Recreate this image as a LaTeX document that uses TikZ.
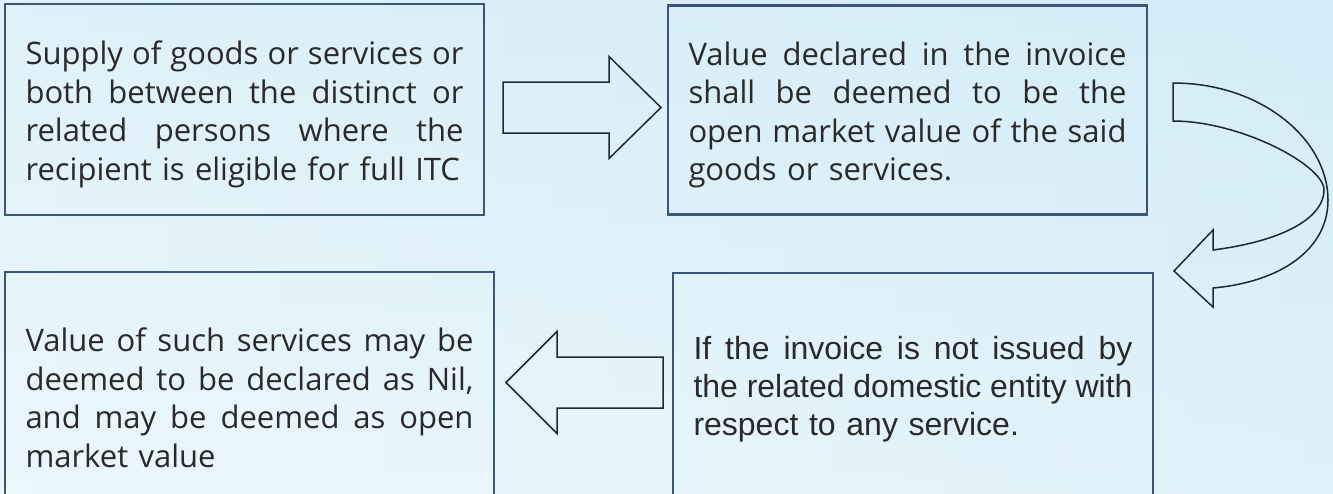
\documentclass[tikz,border=0pt]{standalone}
\usepackage{fontspec}
\setmainfont{Open Sans}
\newfontfamily\arialf{Liberation Sans}
\definecolor{boxc}{HTML}{3A5779}
\definecolor{arrc}{HTML}{1E2A30}
\definecolor{txt}{HTML}{2A2A2A}
\definecolor{bgA}{HTML}{EBF8FC}
\definecolor{bgB}{HTML}{D4ECF8}
\newcommand\jl[2]{\leavevmode\hbox to #1{\spaceskip=\fontdimen2\font plus 1fil minus 0.1em\relax #2}\\}
\begin{document}
\begin{tikzpicture}[x=1pt,y=-1pt,
  card/.style={draw=boxc, line width=2.5pt, inner sep=0pt, anchor=center},
  cardtext/.style={inner sep=0pt, align=left, text=txt,
    font=\fontsize{31}{38.5}\selectfont, anchor=center},
  blockarrow/.style={draw=arrc, line width=1.5pt, line join=miter}]
\useasboundingbox (0,0) rectangle (1333,493);
\clip (0,0) rectangle (1333,493);
\shade[left color=bgA, right color=bgB] (0,0) rectangle (1333,493);
\shade[top color=bgB, bottom color=bgA, opacity=0.5] (0,0) rectangle (1333,493);

% boxes
\node[card, minimum width=479pt, minimum height=211pt] (b1) at (244.5,109.5) {};
\node[card, minimum width=479pt, minimum height=209pt] (b2) at (907.5,110) {};
\node[card, minimum width=489pt, minimum height=252pt] (b3) at (249.5,398) {};
\node[card, minimum width=480pt, minimum height=228pt] (b4) at (913,387) {};

% texts
\node[cardtext, text width=438pt] (t1) at ([yshift=-5pt]b1.center)
  {\jl{438pt}{Supply of goods or services or}\jl{438pt}{both between the distinct or}\jl{438pt}{related persons where the}recipient is eligible for full ITC};
\node[cardtext, text width=438pt] (t2) at ([yshift=-5pt]b2.center)
  {\jl{438pt}{Value declared in the invoice}\jl{438pt}{shall be deemed to be the}\jl{438pt}{open market value of the said}goods or services.};
\node[cardtext, text width=448pt] (t3) at (b3.center)
  {\jl{448pt}{Value of such services may be}\jl{448pt}{deemed to be declared as Nil,}\jl{448pt}{and may be deemed as open}market value};
\node[cardtext, text width=439pt, font=\arialf\fontsize{32}{38}\selectfont] (t4) at ([yshift=-2.5pt]b4.center)
  {\jl{439pt}{If the invoice is not issued by}\jl{439pt}{the related domestic entity with}respect to any service.};

% right block arrow (b1 -> b2)
\draw[blockarrow] (503,82) -- (609,82) -- (609,56.5) -- (661,107.5) -- (609,158.5) -- (609,133) -- (503,133) -- cycle;
% curved block arrow (b2 -> b4)
\draw[blockarrow] (1173,83) .. controls (1262,83) and (1328,140) .. (1328,200)
  .. controls (1328,250) and (1280,282) .. (1213,288) -- (1213,307) -- (1174,271)
  -- (1213,230) -- (1213,250) .. controls (1290,240) and (1324,215) .. (1324,190)
  .. controls (1324,165) and (1240,121) .. (1173,121) -- cycle;
% left block arrow (b4 -> b3)
\draw[blockarrow] (663,357) -- (557,357) -- (557,331.5) -- (506,382.5) -- (557,433.5) -- (557,408) -- (663,408) -- cycle;
\end{tikzpicture}
\end{document}
